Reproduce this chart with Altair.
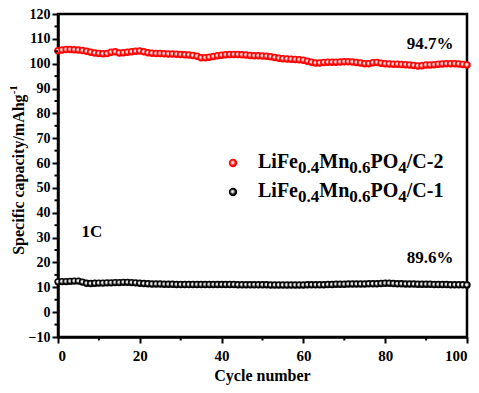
import altair as alt
import pandas as pd

# ---------------- data ----------------
cycles = list(range(0, 101))

cap_c2 = [
    105.2, 105.5, 105.7, 105.7, 105.6, 105.5, 105.3, 105.0, 104.6, 104.3,
    104.1, 104.0, 104.1, 104.6, 104.8, 104.3, 104.4, 104.6, 104.8, 105.0,
    105.1, 104.8, 104.4, 104.2, 104.1, 104.1, 104.0, 103.9, 103.9, 103.8,
    103.7, 103.6, 103.5, 103.3, 103.0, 102.4, 102.4, 102.6, 102.9, 103.2,
    103.4, 103.6, 103.7, 103.7, 103.7, 103.6, 103.5, 103.3, 103.2, 103.2,
    103.1, 103.0, 102.8, 102.5, 102.2, 102.0, 101.9, 101.8, 101.7, 101.6,
    101.4, 101.0, 100.6, 100.3, 100.3, 100.5, 100.6, 100.6, 100.6, 100.7,
    100.8, 100.8, 100.7, 100.5, 100.3, 100.0, 100.0, 100.4, 100.5, 100.2,
    100.0, 99.9, 99.8, 99.8, 99.7, 99.6, 99.5, 99.3, 99.1, 99.2,
    99.5, 99.5, 99.6, 99.8, 99.9, 100.0, 100.0, 100.0, 99.9, 99.7,
    99.5,
]

cap_c1 = [
    12.2, 12.3, 12.3, 12.4, 12.5, 12.5, 12.1, 11.6, 11.5, 11.6,
    11.7, 11.7, 11.8, 11.8, 11.9, 11.9, 12.0, 12.0, 11.9, 11.8,
    11.6, 11.5, 11.4, 11.3, 11.3, 11.3, 11.2, 11.2, 11.2, 11.1,
    11.1, 11.1, 11.1, 11.1, 11.1, 11.1, 11.1, 11.1, 11.1, 11.1,
    11.1, 11.1, 11.1, 11.1, 11.0, 11.0, 11.0, 11.0, 11.0, 11.0,
    11.0, 11.0, 10.9, 10.9, 10.9, 10.9, 10.9, 10.9, 10.9, 10.9,
    10.9, 11.0, 11.0, 11.0, 11.0, 11.0, 11.1, 11.1, 11.2, 11.2,
    11.2, 11.3, 11.3, 11.3, 11.3, 11.3, 11.4, 11.4, 11.4, 11.5,
    11.6, 11.6, 11.5, 11.4, 11.4, 11.3, 11.3, 11.3, 11.2, 11.2,
    11.2, 11.2, 11.1, 11.1, 11.1, 11.1, 11.0, 11.0, 11.0, 11.0,
    10.9,
]

x_major = [0, 20, 40, 60, 80, 100]
x_minor = [10, 30, 50, 70, 90]
y_major = list(range(-10, 121, 10))
y_minor = list(range(-5, 120, 10))

ann_text = ["94.7%", "89.6%", "1C"]
ann_cycle = [91.0, 91.0, 8.3]
ann_cap = [107.9, 21.8, 32.3]

# legend label pieces: (text, is_subscript)
legend_c2 = [("LiFe", False), ("0.4", True), ("Mn", False), ("0.6", True),
             ("PO", False), ("4", True), ("/C-2", False)]
legend_c1 = [("LiFe", False), ("0.4", True), ("Mn", False), ("0.6", True),
             ("PO", False), ("4", True), ("/C-1", False)]

# ---------------- layout helpers ----------------
FONT = "Liberation Serif"
W, H = 409, 323

# Times-Bold advance widths (per 1000 em)
ADV = {"L": 667, "i": 278, "F": 611, "e": 444, "M": 944, "n": 556, "P": 611,
       "O": 778, "/": 278, "C": 722, "-": 333, ".": 250, " ": 250, "S": 556,
       "p": 556, "c": 444, "f": 333, "a": 500, "t": 333, "y": 500, "m": 833,
       "A": 722, "h": 556, "g": 500}


def text_width(s, size):
    return sum(ADV.get(ch, 500) for ch in s) * size / 1000.0


df = pd.DataFrame({"cycle": cycles, "c2": cap_c2, "c1": cap_c1})
ann_df = pd.DataFrame({"cycle": ann_cycle, "cap": ann_cap, "label": ann_text})
xminor_df = pd.DataFrame({"v": x_minor})
yminor_df = pd.DataFrame({"v": y_minor})

xscale = alt.Scale(domain=[0, 100], nice=False, zero=False)
yscale = alt.Scale(domain=[-10, 120], nice=False, zero=False)

xaxis = alt.Axis(
    values=x_major,
    tickSize=6,
    labelPadding=5,
    labelFontSize=15,
    labelOverlap=False,
    labelFont=FONT,
    labelFontWeight="bold",
    labelColor="black",
    title=None,
)
yaxis = alt.Axis(
    values=y_major,
    tickSize=6,
    labelPadding=2,
    labelFontSize=14,
    labelOverlap=False,
    labelFont=FONT,
    labelFontWeight="bold",
    labelColor="black",
    title=None,
)


def sphere(color, mid):
    return {
        "gradient": "radial",
        "x1": 0.42, "y1": 0.42, "r1": 0,
        "x2": 0.5, "y2": 0.5, "r2": 0.5,
        "stops": [
            {"offset": 0, "color": "#ffffff"},
            {"offset": 0.3, "color": mid},
            {"offset": 0.62, "color": color},
            {"offset": 1, "color": color},
        ],
    }


RED = sphere("#ff0000", "#ffd0d0")
BLK = sphere("#000000", "#e0e0e0")

base = alt.Chart(df)

s1 = base.mark_circle(fill=BLK, opacity=1, size=55).encode(
    x=alt.X("cycle:Q", scale=xscale, axis=xaxis),
    y=alt.Y("c1:Q", scale=yscale, axis=yaxis),
)
s2 = base.mark_circle(fill=RED, opacity=1, size=55).encode(
    x=alt.X("cycle:Q", scale=xscale, axis=xaxis),
    y=alt.Y("c2:Q", scale=yscale, axis=yaxis),
)

# minor ticks (outward, shorter)
xminor = alt.Chart(xminor_df).mark_rule(color="black", strokeWidth=2).encode(
    x=alt.X("v:Q", scale=xscale, axis=xaxis),
    y=alt.value(H),
    y2=alt.value(H + 3.5),
)
yminor = alt.Chart(yminor_df).mark_rule(color="black", strokeWidth=2).encode(
    y=alt.Y("v:Q", scale=yscale, axis=yaxis),
    x=alt.value(-3.5),
    x2=alt.value(0),
)

ann = alt.Chart(ann_df).mark_text(
    font=FONT, fontWeight="bold", fontSize=17, align="center", baseline="middle", color="black"
).encode(
    x=alt.X("cycle:Q", scale=xscale, axis=xaxis),
    y=alt.Y("cap:Q", scale=yscale, axis=yaxis),
    text="label:N",
)

one = alt.Data(values=[{"a": 1}])
layers = [s1, s2, xminor, yminor, ann]

# legend
for fill, y_mark, y_base, pieces in [(RED, 149, 154, legend_c2), (BLK, 178, 183, legend_c1)]:
    layers.append(
        alt.Chart(one).mark_circle(fill=fill, opacity=1, size=70).encode(
            x=alt.value(175), y=alt.value(y_mark)
        )
    )
    xpos = 200.0
    for txt, sub in pieces:
        size = 17 if sub else 20
        layers.append(
            alt.Chart(one).mark_text(
                text=txt, font=FONT, fontWeight="bold", fontSize=size,
                align="left", baseline="alphabetic", color="black",
            ).encode(x=alt.value(xpos), y=alt.value(y_base + (5 if sub else 0)))
        )
        xpos += text_width(txt, size)

# y title with superscript
main_t = "Specific capacity/mAhg"
sup_t = "-1"
wm = text_width(main_t, 16)
ws = text_width(sup_t, 11)
y_center = 156
start = y_center + (wm + ws) / 2.0
layers.append(
    alt.Chart(one).mark_text(
        text=main_t, font=FONT, fontWeight="bold", fontSize=16, angle=270,
        align="left", baseline="middle", color="black",
    ).encode(x=alt.value(-39), y=alt.value(start))
)
layers.append(
    alt.Chart(one).mark_text(
        text=sup_t, font=FONT, fontWeight="bold", fontSize=11, angle=270,
        align="left", baseline="middle", color="black",
    ).encode(x=alt.value(-44), y=alt.value(start - wm))
)

# x title
layers.append(
    alt.Chart(one).mark_text(
        text="Cycle number", font=FONT, fontWeight="bold", fontSize=16,
        align="center", baseline="middle", color="black",
    ).encode(x=alt.value(W / 2.0), y=alt.value(362))
)

chart = alt.layer(*layers).properties(
    width=W, height=H,
    autosize=alt.AutoSizeParams(type="none"),
    padding={"left": 50, "top": 6, "right": 4, "bottom": 48},
    background="white",
).configure_view(
    stroke="black", strokeWidth=2.5
).configure_axis(
    grid=False, domainColor="black", domainWidth=2.5, tickColor="black", tickWidth=2,
    labelFont=FONT, labelFontWeight="bold", labelColor="black", labelOverlap=False,
)

chart.save("out.html", embed_options={"renderer": "svg", "actions": False})
